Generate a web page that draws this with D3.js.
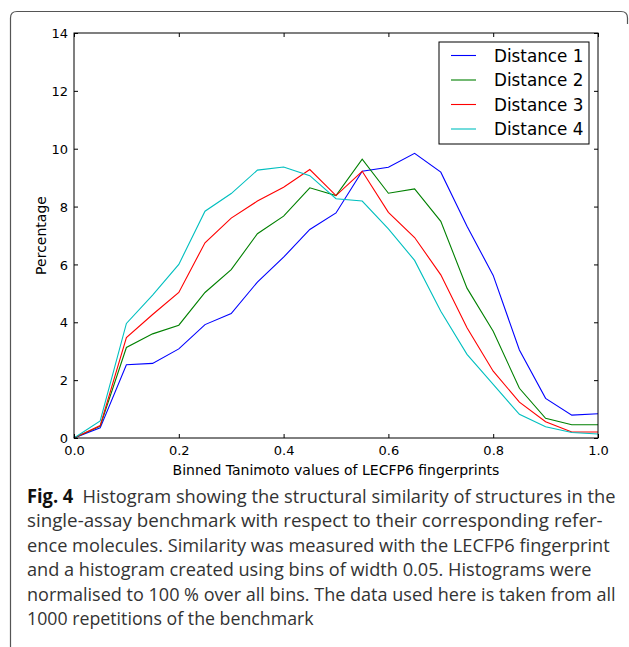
<!DOCTYPE html>
<html>
<head>
<meta charset="utf-8">
<script src="https://cdn.jsdelivr.net/npm/d3@7"></script>
<style>
  body { margin: 0; background: #fff; }
  svg { display: block; }
  .tick text { font-family: "DejaVu Sans", sans-serif; }
</style>
</head>
<body>
<div id="chart-area"></div>
<script>
// bin centres / edges (Tanimoto)
var bins = [0, 0.05, 0.1, 0.15, 0.2, 0.25, 0.3, 0.35, 0.4, 0.45, 0.5,
            0.55, 0.6, 0.65, 0.7, 0.75, 0.8, 0.85, 0.9, 0.95, 1.0];

var distance1 = [0, 0.35, 2.53, 2.58, 3.08, 3.92, 4.30, 5.39, 6.25, 7.21, 7.78,
                 9.22, 9.36, 9.84, 9.19, 7.32, 5.62, 3.04, 1.37, 0.79, 0.84];
var distance2 = [0, 0.41, 3.13, 3.60, 3.90, 5.03, 5.82, 7.06, 7.67, 8.65, 8.38,
                 9.64, 8.46, 8.61, 7.49, 5.18, 3.69, 1.72, 0.68, 0.46, 0.46];
var distance3 = [0, 0.43, 3.47, 4.27, 5.03, 6.75, 7.60, 8.19, 8.67, 9.28, 8.38,
                 9.22, 7.80, 6.93, 5.64, 3.81, 2.31, 1.24, 0.56, 0.21, 0.21];
var distance4 = [0, 0.59, 3.96, 4.94, 6.00, 7.84, 8.45, 9.26, 9.37, 9.07, 8.27,
                 8.19, 7.23, 6.14, 4.38, 2.89, 1.85, 0.82, 0.39, 0.19, 0.14];

var seriesNames = ['Distance 1', 'Distance 2', 'Distance 3', 'Distance 4'];
var seriesColors = ['#0000ff', '#008000', '#ff0000', '#00bfbf'];

var xTicks = [0, 0.2, 0.4, 0.6, 0.8, 1.0];
var yTicks = [0, 2, 4, 6, 8, 10, 12, 14];

var captionLines = [
  'Histogram showing the structural similarity of structures in the',
  'single-assay benchmark with respect to their corresponding refer-',
  'ence molecules. Similarity was measured with the LECFP6 fingerprint',
  'and a histogram created using bins of width 0.05. Histograms were',
  'normalised to 100\u00a0% over all bins. The data used here is taken from all',
  '1000 repetitions of the benchmark'
];
var captionEnds = [616, 603, 610, 592, 616, 314];

var margin = { left: 74, top: 33, right: 31, bottom: 209 };
var W = 629, H = 647;
var width = W - margin.left - margin.right,
    height = H - margin.top - margin.bottom;

var svg = d3.select('#chart-area')
  .append('svg')
    .attr('width', W)
    .attr('height', H);

// rounded frame (top/left only visible)
svg.append('path')
  .attr('d', 'M10.5,647 V18 Q10.5,11.5 17,11.5 H621 Q627.5,11.5 627.5,18 V24')
  .attr('fill', 'none')
  .attr('stroke', '#555')
  .attr('stroke-width', 1.2);

var g = svg.append('g')
  .attr('transform', 'translate(' + margin.left + ',' + margin.top + ')');

var x = d3.scaleLinear().domain([0, 1]).range([0, width]);
var y = d3.scaleLinear().domain([0, 14]).range([height, 0]);

// lines
var series = [distance1, distance2, distance3, distance4];
var line = d3.line()
  .x(function(d, i) { return x(bins[i]); })
  .y(function(d) { return y(d); });

g.selectAll('path.series')
  .data(series)
  .enter().append('path')
    .attr('class', 'series')
    .attr('d', line)
    .attr('fill', 'none')
    .attr('stroke', function(d, i) { return seriesColors[i]; })
    .attr('stroke-width', 1.1);

// axes (ticks pointing inwards, on all four sides)
var fmtX = d3.format('.1f');
var xAxisB = d3.axisBottom(x).tickValues(xTicks).tickFormat(fmtX)
  .tickSizeInner(-4).tickSizeOuter(0).tickPadding(8);
var xAxisT = d3.axisTop(x).tickValues(xTicks).tickFormat('')
  .tickSizeInner(-4).tickSizeOuter(0);
var yAxisL = d3.axisLeft(y).tickValues(yTicks).tickFormat(d3.format('d'))
  .tickSizeInner(-4).tickSizeOuter(0).tickPadding(6);
var yAxisR = d3.axisRight(y).tickValues(yTicks).tickFormat('')
  .tickSizeInner(-4).tickSizeOuter(0);

var xb = g.append('g').attr('transform', 'translate(0,' + height + ')').call(xAxisB);
var xt = g.append('g').call(xAxisT);
var yl = g.append('g').call(yAxisL);
var yr = g.append('g').attr('transform', 'translate(' + width + ',0)').call(yAxisR);

[xb, xt, yl, yr].forEach(function(a) {
  a.select('.domain').remove();
  a.selectAll('.tick line').attr('stroke', '#000');
  a.selectAll('.tick text').attr('font-size', 13).attr('fill', '#000');
});
xb.selectAll('.tick text').attr('dy', '0.71em');
yl.selectAll('.tick text').attr('dy', '0.36em');

// spines
g.append('rect')
  .attr('x', 0).attr('y', 0)
  .attr('width', width).attr('height', height)
  .attr('fill', 'none')
  .attr('stroke', '#000')
  .attr('stroke-width', 1);

// axis labels
g.append('text')
  .attr('x', width / 2)
  .attr('y', height + 37)
  .attr('text-anchor', 'middle')
  .attr('font-family', 'DejaVu Sans, sans-serif')
  .attr('font-size', 14)
  .text('Binned Tanimoto values of LECFP6 fingerprints');

g.append('text')
  .attr('transform', 'rotate(-90)')
  .attr('x', -height / 2)
  .attr('y', -28)
  .attr('text-anchor', 'middle')
  .attr('font-family', 'DejaVu Sans, sans-serif')
  .attr('font-size', 14)
  .text('Percentage');

// legend
var lg = g.append('g').attr('transform', 'translate(' + (439 - margin.left) + ',' + (42 - margin.top) + ')');
lg.append('rect')
  .attr('width', 150).attr('height', 102)
  .attr('fill', '#fff')
  .attr('stroke', '#000')
  .attr('stroke-width', 1);
var items = lg.selectAll('g.item')
  .data(seriesNames)
  .enter().append('g')
    .attr('class', 'item')
    .attr('transform', function(d, i) { return 'translate(0,' + (13.5 + i * 24.5) + ')'; });
items.append('line')
  .attr('x1', 12).attr('x2', 37)
  .attr('stroke', function(d, i) { return seriesColors[i]; })
  .attr('stroke-width', 1.1);
items.append('text')
  .attr('x', 55)
  .attr('dy', '0.36em')
  .attr('font-family', 'DejaVu Sans, sans-serif')
  .attr('font-size', 16.8)
  .text(function(d) { return d; });

// caption: each line squeezed horizontally to the width it has in the figure
var cap = svg.append('g')
  .attr('font-family', 'Open Sans, Noto Sans, sans-serif')
  .attr('font-size', 19)
  .attr('fill', '#333');
captionLines.forEach(function(t, i) {
  var by = 503 + i * 24.4;
  var txt = cap.append('text');
  if (i === 0) {
    txt.append('tspan').attr('font-weight', 'bold').attr('fill', '#111').text('Fig. 4');
    txt.append('tspan').text('\u2002' + t);
  } else {
    txt.text(t);
  }
  var natural = txt.node().getComputedTextLength();
  var k = (captionEnds[i] - 27) / natural;
  txt.attr('transform', 'translate(27,' + by + ') scale(' + k + ',1)');
});
</script>
</body>
</html>
